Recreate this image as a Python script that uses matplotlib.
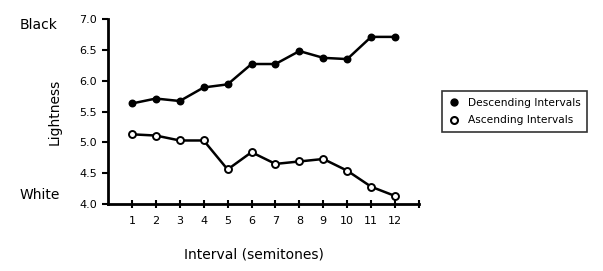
import matplotlib
matplotlib.use("Agg")
import matplotlib.pyplot as plt
from matplotlib.lines import Line2D

intervals = [1, 2, 3, 4, 5, 6, 7, 8, 9, 10, 11, 12]
descending = [5.63, 5.71, 5.67, 5.89, 5.94, 6.27, 6.27, 6.48, 6.37, 6.35, 6.71, 6.71]
ascending = [5.13, 5.11, 5.03, 5.03, 4.56, 4.84, 4.65, 4.69, 4.73, 4.54, 4.28, 4.13]
yticks = [4.0, 4.5, 5.0, 5.5, 6.0, 6.5, 7.0]
series_names = ["Descending Intervals", "Ascending Intervals"]

plt.rcParams['font.family'] = ['DejaVu Sans']
fig = plt.figure(figsize=(6.03, 2.71), dpi=100)
ax = fig.add_axes([108/603, 1-204/271, (419-108)/603, (204-19)/271])

ax.plot(intervals, descending, color='black', lw=1.8, marker='o', ms=4.5,
        mfc='black', mec='black', mew=1.2)
ax.plot(intervals, ascending, color='black', lw=1.8, marker='o', ms=5,
        mfc='white', mec='black', mew=1.4, zorder=3)

ax.set_xlim(0, 13)
ax.set_ylim(4.0, 7.0)
ax.set_xticks(list(range(1, 14)))
ax.set_xticklabels([str(i) for i in intervals] + [""])
ax.set_yticks(yticks)
ax.set_yticklabels([f"{v:.1f}" for v in yticks])
for s in ['top', 'right']:
    ax.spines[s].set_visible(False)
for s in ['left', 'bottom']:
    ax.spines[s].set_linewidth(2)
ax.tick_params(axis='x', direction='inout', length=6, width=1.5, labelsize=8, pad=6)
ax.tick_params(axis='y', direction='out', length=4, width=1.5, labelsize=8, pad=4)

fig.text(55/603, 1-112/271, "Lightness", rotation=90, ha='center', va='center', fontsize=10)
fig.text(254/603, 1-254/271, "Interval (semitones)", ha='center', va='center', fontsize=10)
fig.text(20/603, 1-25/271, "Black", ha='left', va='center', fontsize=10)
fig.text(20/603, 1-195/271, "White", ha='left', va='center', fontsize=10)

handles = [Line2D([], [], ls='none', marker='o', ms=5, mfc='black', mec='black'),
           Line2D([], [], ls='none', marker='o', ms=5, mfc='white', mec='black', mew=1.5)]
leg = fig.legend(handles, series_names, loc='upper left',
                 bbox_to_anchor=(437/603, 1-86/271), fontsize=7.7, frameon=True,
                 fancybox=False, edgecolor='black', handlelength=1.0,
                 handletextpad=0.8, borderpad=0.6, labelspacing=0.7)
leg.get_frame().set_linewidth(1.2)

fig.savefig("out.png", dpi=100)
